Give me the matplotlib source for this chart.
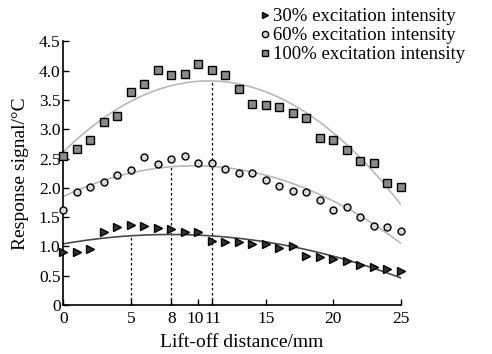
import numpy as np
import matplotlib
matplotlib.use("Agg")
import matplotlib.pyplot as plt
from matplotlib.lines import Line2D
from matplotlib.transforms import ScaledTranslation

plt.rcParams['font.family'] = ['Liberation Serif', 'DejaVu Serif']

# Lift-off distance (mm)
distance = np.arange(0, 26)

# Response signal (°C) for each excitation intensity
resp_30 = [0.91, 0.91, 0.95, 1.24, 1.33, 1.37, 1.35, 1.31, 1.30, 1.25, 1.24,
           1.09, 1.08, 1.07, 1.05, 1.04, 0.98, 1.00, 0.84, 0.82, 0.79, 0.75,
           0.69, 0.65, 0.62, 0.58]
resp_60 = [1.63, 1.93, 2.02, 2.10, 2.22, 2.31, 2.52, 2.40, 2.49, 2.54, 2.43,
           2.43, 2.32, 2.25, 2.25, 2.14, 2.04, 1.94, 1.93, 1.79, 1.62, 1.67,
           1.50, 1.35, 1.33, 1.26]
resp_100 = [2.54, 2.66, 2.82, 3.12, 3.23, 3.63, 3.77, 4.02, 3.93, 3.95, 4.11,
            4.01, 3.92, 3.69, 3.44, 3.42, 3.38, 3.28, 3.19, 2.86, 2.82, 2.65,
            2.46, 2.43, 2.09, 2.02]

labels = ["30% excitation intensity", "60% excitation intensity",
          "100% excitation intensity"]

# Optimum lift-off distances marked with dashed lines
peak_dist = [5, 8, 11]

xticks = [0, 5, 8, 10, 11, 15, 20, 25]
yticks = [0, 0.5, 1.0, 1.5, 2.0, 2.5, 3.0, 3.5, 4.0, 4.5]
ytick_labels = ["0", "0.5", "1.0", "1.5", "2.0", "2.5", "3.0", "3.5", "4.0", "4.5"]

fig = plt.figure(figsize=(4.92, 3.54), dpi=100)
ax = fig.add_axes([0.1287, 0.1384, 0.6858, 0.7444])

x = np.asarray(distance, dtype=float)
xs = np.linspace(0, 25, 200)
series = [resp_30, resp_60, resp_100]
line_colors = ["#4a4a4a", "#b8b8b8", "#b8b8b8"]
for vals, lc, pk in zip(series, line_colors, peak_dist):
    coef = np.polyfit(x, vals, 2)
    ax.plot(xs, np.polyval(coef, xs), color=lc, lw=1.2, zorder=2)
    ax.plot([pk, pk], [0, np.polyval(coef, pk)], color="black",
            lw=0.9, ls=(0, (2, 2)), zorder=1)

ms_kw = dict(ls="none", mec="black", mew=1.0, zorder=3, clip_on=False)
ax.plot(x, resp_30, marker=">", ms=6, mfc="#333333", **ms_kw)
ax.plot(x, resp_60, marker="o", ms=5, mfc="#d8d8d8", **ms_kw)
ax.plot(x, resp_100, marker="s", ms=5.5, mfc="#8a8a8a", **ms_kw)

ax.set_xlim(0, 25)
ax.set_ylim(0, 4.5)
ax.set_xticks(xticks)
ax.set_xticklabels([str(t) for t in xticks])
ax.set_yticks(yticks)
ax.set_yticklabels(ytick_labels)
ax.tick_params(direction="in", length=4, width=1, labelsize=12.5)
ax.tick_params(axis="x", pad=4.5)
ax.tick_params(axis="y", pad=2)
for s in ["top", "right"]:
    ax.spines[s].set_visible(False)
for s in ["left", "bottom"]:
    ax.spines[s].set_linewidth(1.2)

# Nudge the crowded "10" and "11" labels apart
for lab, tv in zip(ax.get_xticklabels(), xticks):
    if tv == 10:
        lab.set_transform(lab.get_transform() + ScaledTranslation(-3.3 / 100, 0, fig.dpi_scale_trans))
    elif tv == 11:
        lab.set_transform(lab.get_transform() + ScaledTranslation(1.5 / 100, 0, fig.dpi_scale_trans))

ax.set_xlabel("Lift-off distance/mm", fontsize=14, labelpad=5, x=0.53)
ax.set_ylabel("Response signal/°C", fontsize=14, labelpad=7)

handles = [
    Line2D([], [], ls="none", marker=">", ms=5, mfc="#333333", mec="black"),
    Line2D([], [], ls="none", marker="o", ms=4.5, mfc="#d8d8d8", mec="black"),
    Line2D([], [], ls="none", marker="s", ms=4.5, mfc="#8a8a8a", mec="black"),
]
fig.legend(handles, labels, loc="upper left", bbox_to_anchor=(0.515, 0.987),
           frameon=False, fontsize=13.5, handletextpad=0.05, handlelength=0.8,
           labelspacing=0.1, borderaxespad=0.0, borderpad=0.2)

fig.savefig("out.png", dpi=100)
